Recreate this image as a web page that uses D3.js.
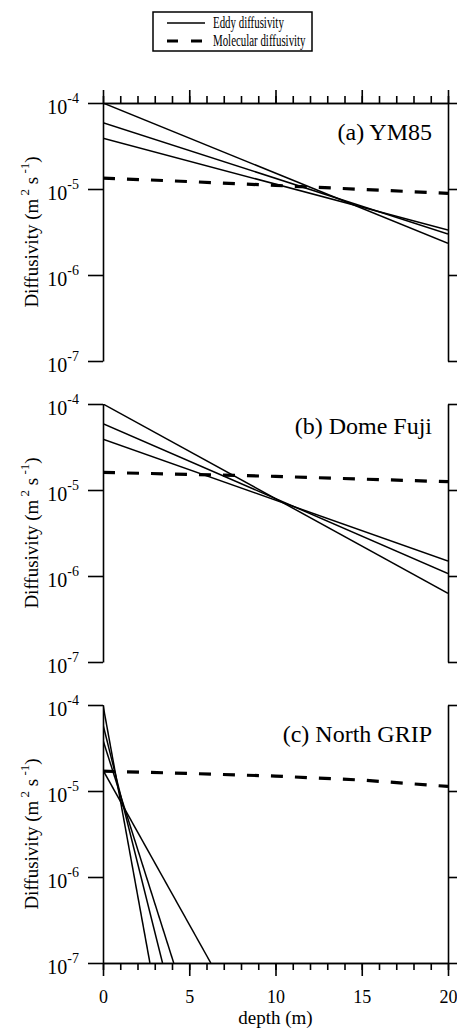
<!DOCTYPE html>
<meta charset="utf-8">
<style>
  body { margin: 0; background: #fff; }
  svg, text { font-family: "Liberation Serif", "Times New Roman", serif; fill: #000; }
  .axis path, .axis line { stroke: #000; stroke-width: 1.6; }
  .eddy { fill: none; stroke: #000; stroke-width: 1.5; }
  .molecular { fill: none; stroke: #000; stroke-width: 3.2; stroke-dasharray: 12,12; }
</style>
<body>
<script src="https://d3js.org/d3.v7.min.js"></script>
<script>

// ---- data ----
var panelNames = ["(a) YM85", "(b) Dome Fuji", "(c) North GRIP"];
var legendNames = ["Eddy diffusivity", "Molecular diffusivity"];

var yTicks = [1e-4, 1e-5, 1e-6, 1e-7];
var yTickExponents = ["-4", "-5", "-6", "-7"];
var xMajorTicks = [0, 5, 10, 15, 20];
var xMinorTicks = [0, 1, 2, 3, 4, 5, 6, 7, 8, 9, 10, 11, 12, 13, 14, 15, 16, 17, 18, 19, 20];

// eddy diffusivity (straight on the log axis) : depth pairs and value pairs
var eddyYM85Depth = [[0, 20], [0, 20], [0, 20]];
var eddyYM85 = [[1.0e-4, 2.34e-6], [5.9e-5, 3.0e-6], [3.9e-5, 3.33e-6]];
var eddyDomeFujiDepth = [[0, 20], [0, 20], [0, 20]];
var eddyDomeFuji = [[1.0e-4, 6.3e-7], [5.9e-5, 1.07e-6], [3.9e-5, 1.49e-6]];
var eddyNGRIPDepth = [[0, 2.72], [0, 3.45], [0, 4.1], [0, 6.25]];
var eddyNGRIP = [[1.0e-4, 1e-7], [5.9e-5, 1e-7], [3.9e-5, 1e-7], [1.75e-5, 1e-7]];

// molecular diffusivity
var molDepth = [0, 5, 10, 15, 20];
var molYM85 = [1.34e-5, 1.22e-5, 1.1e-5, 9.9e-6, 8.9e-6];
var molDomeFuji = [1.6e-5, 1.52e-5, 1.44e-5, 1.34e-5, 1.25e-5];
var molNGRIP = [1.7e-5, 1.6e-5, 1.49e-5, 1.34e-5, 1.13e-5];

// ---- layout ----
var width = 457, height = 1033;
var left = 103, right = 448;
var panelTops = [103, 404, 705];
var panelHeight = 258;
var titleOffsets = [37, 30, 37];
var serif = '"Liberation Serif", "Times New Roman", serif';

var panels = [
  { name: panelNames[0], eddyDepth: eddyYM85Depth, eddy: eddyYM85, mol: molYM85 },
  { name: panelNames[1], eddyDepth: eddyDomeFujiDepth, eddy: eddyDomeFuji, mol: molDomeFuji },
  { name: panelNames[2], eddyDepth: eddyNGRIPDepth, eddy: eddyNGRIP, mol: molNGRIP }
];

var svg = d3.select("body").append("svg")
    .attr("width", width)
    .attr("height", height);

var x = d3.scaleLinear().domain([0, 20]).range([left, right]);

panels.forEach(function(p, i) {
  var top = panelTops[i], bottom = top + panelHeight;
  var y = d3.scaleLog().domain([1e-7, 1e-4]).range([bottom, top]);
  var g = svg.append("g");

  g.append("clipPath").attr("id", "clip" + i)
    .append("rect")
    .attr("x", left).attr("y", top)
    .attr("width", right - left).attr("height", panelHeight);

  var line = d3.line()
      .x(function(d) { return x(d[0]); })
      .y(function(d) { return y(d[1]); });

  var plot = g.append("g").attr("clip-path", "url(#clip" + i + ")");

  p.eddy.forEach(function(vals, k) {
    var pts = vals.map(function(v, j) { return [p.eddyDepth[k][j], v]; });
    plot.append("path").attr("class", "eddy").attr("d", line(pts));
  });

  plot.append("path")
      .attr("class", "molecular")
      .attr("d", line(molDepth.map(function(d, j) { return [d, p.mol[j]]; })));

  // left / right axes
  g.append("g").attr("class", "axis")
      .attr("transform", "translate(" + left + ",0)")
      .call(d3.axisLeft(y).tickValues(yTicks).tickSize(15).tickSizeOuter(0).tickFormat(""));
  g.append("g").attr("class", "axis")
      .attr("transform", "translate(" + right + ",0)")
      .call(d3.axisRight(y).tickValues(yTicks).tickSize(15).tickSizeOuter(0).tickFormat(""));

  // y tick labels 10^n
  yTicks.forEach(function(v, k) {
    var t = g.append("text")
        .attr("x", 79)
        .attr("y", y(v) + 11)
        .attr("text-anchor", "end")
        .attr("font-family", serif)
        .style("font-size", "20px")
        .text("10");
    t.append("tspan")
        .attr("dy", -11)
        .style("font-size", "14px")
        .text(yTickExponents[k]);
  });

  // y title
  var yt = g.append("text")
      .attr("transform", "translate(38," + (top + panelHeight / 2) + ") rotate(-90)")
      .attr("text-anchor", "middle")
      .attr("font-family", serif)
      .style("font-size", "19px")
      .text("Diffusivity (m");
  yt.append("tspan").attr("dy", -9).style("font-size", "13px").text(" 2");
  yt.append("tspan").attr("dy", 9).text(" s");
  yt.append("tspan").attr("dy", -9).style("font-size", "13px").text(" -1");
  yt.append("tspan").attr("dy", 9).text(")");

  // panel title
  g.append("text")
      .attr("x", 432)
      .attr("y", top + titleOffsets[i])
      .attr("text-anchor", "end")
      .attr("font-family", serif)
      .style("font-size", "24px")
      .text(p.name);

  // top axis on first panel, bottom axis on last
  if (i === 0) {
    g.append("g").attr("class", "axis")
        .attr("transform", "translate(0," + top + ")")
        .call(d3.axisTop(x).tickValues(xMinorTicks).tickSize(7).tickSizeOuter(0).tickFormat(""));
    g.append("g").attr("class", "axis")
        .attr("transform", "translate(0," + top + ")")
        .call(d3.axisTop(x).tickValues(xMajorTicks).tickSize(13).tickSizeOuter(0).tickFormat(""));
  }
  if (i === panels.length - 1) {
    g.append("g").attr("class", "axis")
        .attr("transform", "translate(0," + bottom + ")")
        .call(d3.axisBottom(x).tickValues(xMinorTicks).tickSize(7).tickSizeOuter(0).tickFormat(""));
    var xb = g.append("g").attr("class", "axis")
        .attr("transform", "translate(0," + bottom + ")")
        .call(d3.axisBottom(x).tickValues(xMajorTicks).tickSize(13).tickSizeOuter(0).tickPadding(14));
    xb.attr("font-family", serif).attr("font-size", 18);
    xb.selectAll("text").attr("fill", "#000");
    g.append("text")
        .attr("x", x(10))
        .attr("y", 1024)
        .attr("text-anchor", "middle")
        .attr("font-family", serif)
        .style("font-size", "19px")
        .text("depth (m)");
  }
});

// legend
var legend = svg.append("g").attr("transform", "translate(153,12)");
legend.append("rect")
    .attr("width", 159).attr("height", 39)
    .attr("fill", "#fff").attr("stroke", "#000").attr("stroke-width", 1.5);
legendNames.forEach(function(name, k) {
  legend.append("line")
      .attr("class", k === 0 ? "eddy" : "molecular")
      .attr("x1", 14).attr("x2", 52)
      .attr("y1", 11 + k * 18).attr("y2", 11 + k * 18)
      .style("stroke-dasharray", k === 0 ? null : "11,13");
  var t = legend.append("text")
      .attr("x", 60).attr("y", 16 + k * 18)
      .attr("font-family", serif)
      .style("font-size", "16px")
      .text(name);
  // the legend text in the figure is set narrow; squeeze it to fit the box
  var w = t.node().getComputedTextLength();
  t.attr("textLength", w * 0.68).attr("lengthAdjust", "spacingAndGlyphs");
});

</script>
</body>
